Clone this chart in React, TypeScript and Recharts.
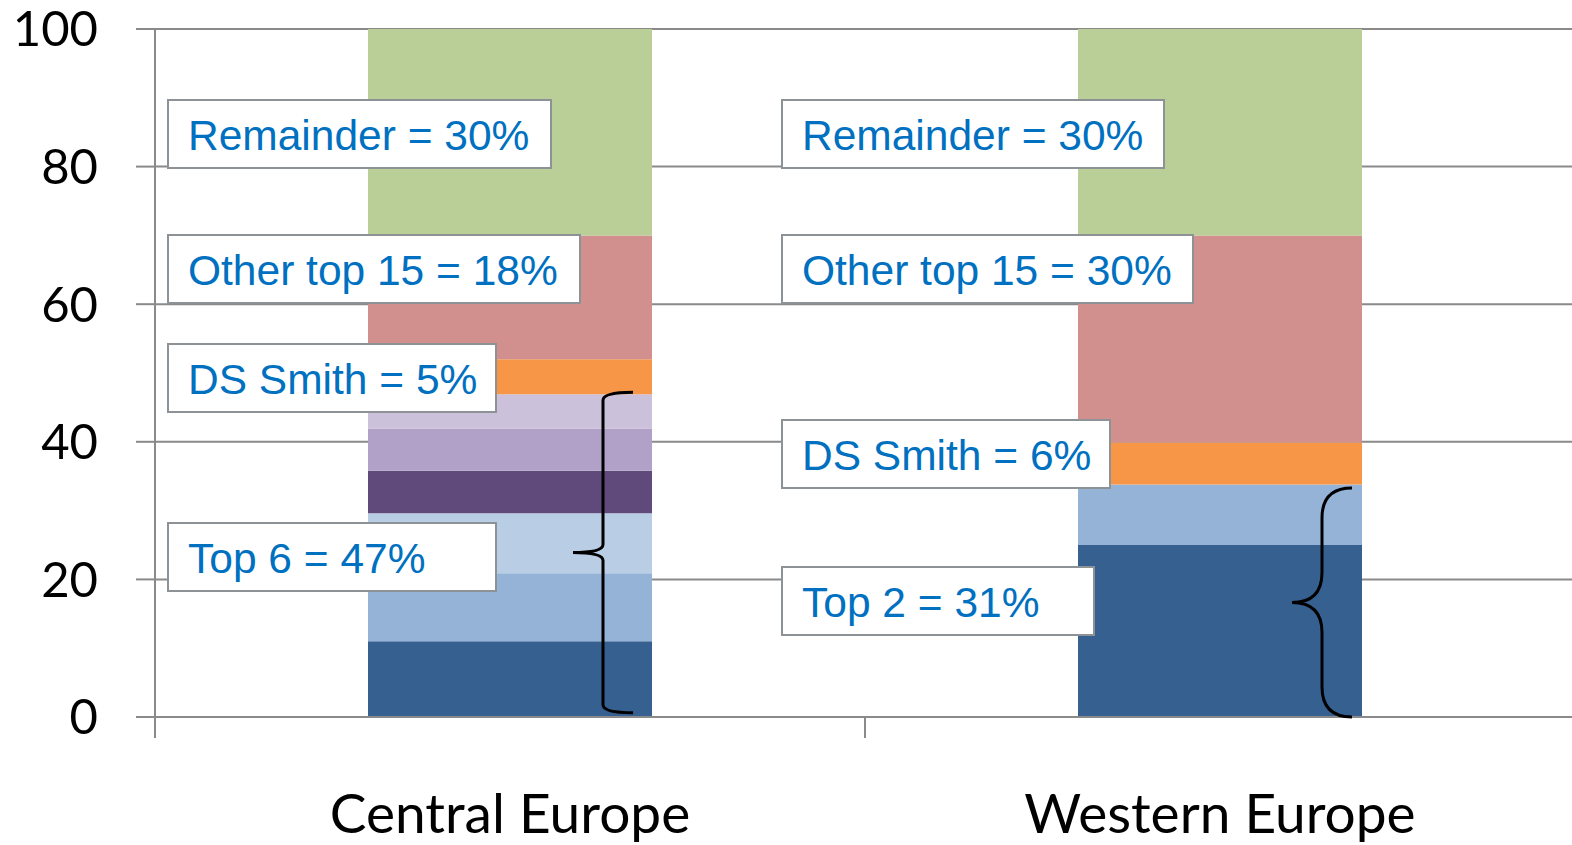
import React from "react";
import { BarChart, Bar, XAxis, YAxis, CartesianGrid } from "recharts";

// chart values
const categories = ["Central Europe", "Western Europe"];
const centralSegments = [11, 9.9, 8.7, 6.2, 6.1, 5, 5.1, 18, 30];
const westernSegments = [25, 8.8, 6.1, 30.1, 30];
const yTicks = [0, 20, 40, 60, 80, 100];

const centralLabels = ["Remainder = 30%", "Other top 15 = 18%", "DS Smith = 5%", "Top 6 = 47%"];
const westernLabels = ["Remainder = 30%", "Other top 15 = 30%", "DS Smith = 6%", "Top 2 = 31%"];
// brace spans (value range) for the "Top N" groups
const braceSpans: [number, number][] = [
  [0.6, 47.2],
  [0, 33.3],
];

// styling
const centralColors = ["#36608F", "#95B3D7", "#B9CDE5", "#604A7B", "#B1A0C7", "#CCC1DA", "#F79646", "#D18F8D", "#BACF97"];
const westernColors = ["#36608F", "#95B3D7", "#F79646", "#D18F8D", "#BACF97"];
const AXIS = "#8A8A8A";
const LABEL_BLUE = "#0070C0";

const W = 1572;
const H = 845;
const PLOT_LEFT = 155;
const PLOT_RIGHT_OVERFLOW = 3;
const PLOT_TOP = 29;
const PLOT_BOTTOM = 717;

const yToPx = (v: number) => PLOT_BOTTOM - (v / 100) * (PLOT_BOTTOM - PLOT_TOP);

// label box layout (left, top, width) for each column
const labelBoxes = [
  [
    { left: 167, top: 99, width: 385 },
    { left: 167, top: 234, width: 414 },
    { left: 167, top: 343, width: 330 },
    { left: 167, top: 522, width: 330 },
  ],
  [
    { left: 781, top: 99, width: 384 },
    { left: 781, top: 234, width: 413 },
    { left: 781, top: 419, width: 330 },
    { left: 781, top: 566, width: 314 },
  ],
];

const braceLayout = [
  { x: 603, hook: 30, r: 8 },
  { x: 1322, hook: 30, r: 30 },
];

const data = [
  Object.fromEntries([["name", categories[0]], ...centralSegments.map((v, i) => [`c${i}`, v])]),
  Object.fromEntries([["name", categories[1]], ...westernSegments.map((v, i) => [`w${i}`, v])]),
];

const CategoryTick = (props: any) => {
  const { x, y, payload } = props;
  const half = (W + PLOT_RIGHT_OVERFLOW - PLOT_LEFT) / categories.length / 2;
  return (
    <g>
      <line x1={x - half} x2={x - half} y1={y} y2={y + 21} stroke={AXIS} strokeWidth={2} />
      <text x={x} y={y + 116} textAnchor="middle" fontSize={55} fontFamily="Lato" fill="#000">
        {payload.value}
      </text>
    </g>
  );
};

const bracePath = (x: number, top: number, bottom: number, hook: number, r: number) => {
  const mid = (top + bottom) / 2;
  return [
    `M ${x + hook} ${top}`,
    `Q ${x} ${top} ${x} ${top + r}`,
    `L ${x} ${mid - r}`,
    `Q ${x} ${mid} ${x - hook} ${mid}`,
    `Q ${x} ${mid} ${x} ${mid + r}`,
    `L ${x} ${bottom - r}`,
    `Q ${x} ${bottom} ${x + hook} ${bottom}`,
  ].join(" ");
};

export default function App() {
  const allLabels = [centralLabels, westernLabels];
  return (
    <div style={{ position: "absolute", left: 0, top: 0, width: W, height: H, background: "#fff", overflow: "hidden" }}>
      <BarChart
        width={W}
        height={H}
        data={data}
        margin={{ top: PLOT_TOP, right: -PLOT_RIGHT_OVERFLOW, left: 0, bottom: 0 }}
        barSize={284}
      >
        <CartesianGrid vertical={false} stroke={AXIS} strokeWidth={2} />
        <XAxis
          dataKey="name"
          height={H - PLOT_BOTTOM}
          axisLine={{ stroke: AXIS, strokeWidth: 2 }}
          tickLine={false}
          tickSize={0}
          tickMargin={0}
          tick={<CategoryTick />}
          interval={0}
        />
        <YAxis
          width={PLOT_LEFT}
          domain={[0, 100]}
          ticks={yTicks}
          axisLine={{ stroke: AXIS, strokeWidth: 2 }}
          tickLine={{ stroke: AXIS, strokeWidth: 2 }}
          tickSize={19}
          tickMargin={38}
          tick={{ fontSize: 49, fontFamily: "Lato", fill: "#000" }}
        />
        {centralSegments.map((_, i) => (
          <Bar key={`c${i}`} dataKey={`c${i}`} stackId="a" fill={centralColors[i]} isAnimationActive={false} />
        ))}
        {westernSegments.map((_, i) => (
          <Bar key={`w${i}`} dataKey={`w${i}`} stackId="a" fill={westernColors[i]} isAnimationActive={false} />
        ))}
      </BarChart>

      <svg width={W} height={H} style={{ position: "absolute", left: 0, top: 0, pointerEvents: "none" }}>
        {braceSpans.map(([lo, hi], i) => (
          <path
            key={i}
            d={bracePath(braceLayout[i].x, yToPx(hi), yToPx(lo), braceLayout[i].hook, braceLayout[i].r)}
            fill="none"
            stroke="#000"
            strokeWidth={3}
          />
        ))}
      </svg>

      {allLabels.map((labels, col) =>
        labels.map((text, i) => {
          const box = labelBoxes[col][i];
          return (
            <div
              key={`${col}-${i}`}
              style={{
                position: "absolute",
                left: box.left,
                top: box.top,
                width: box.width,
                height: 70,
                boxSizing: "border-box",
                border: "2px solid #8C9296",
                background: "#fff",
                color: LABEL_BLUE,
                fontFamily: "'Liberation Sans', Arial, sans-serif",
                fontSize: 42.5,
                lineHeight: "70px",
                paddingLeft: 19,
                whiteSpace: "nowrap",
              }}
            >
              {text}
            </div>
          );
        })
      )}
    </div>
  );
}
